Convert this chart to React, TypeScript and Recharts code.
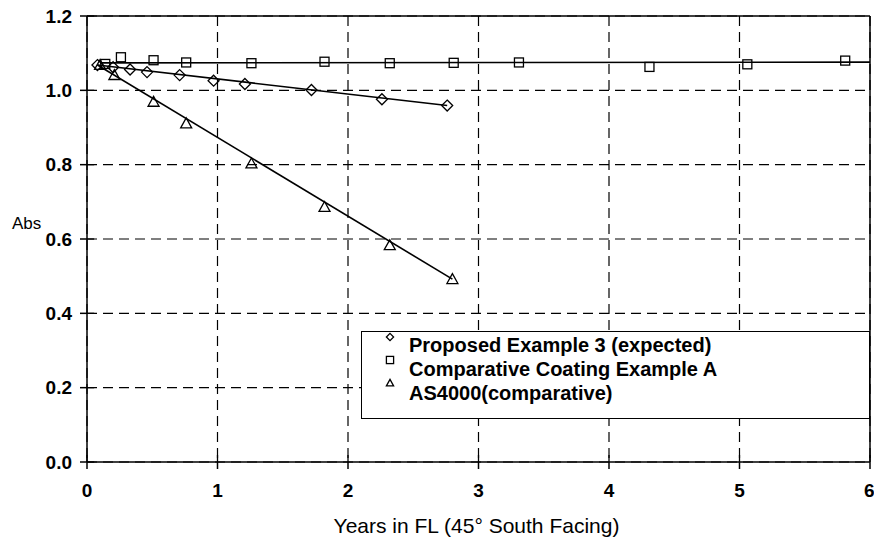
import React from 'react';
import {
  ScatterChart,
  Scatter,
  XAxis,
  YAxis,
  CartesianGrid,
  ReferenceLine,
} from 'recharts';

// ---- data ----
const seriesNames = [
  'Proposed Example 3 (expected)',
  'Comparative Coating Example A',
  'AS4000(comparative)',
];

const proposedX = [0.08, 0.2, 0.33, 0.46, 0.71, 0.97, 1.21, 1.72, 2.26, 2.76];
const proposedY = [1.068, 1.062, 1.056, 1.049, 1.041, 1.026, 1.017, 1.001, 0.976, 0.959];

const compAX = [0.14, 0.26, 0.51, 0.76, 1.26, 1.82, 2.32, 2.81, 3.31, 4.31, 5.06, 5.81];
const compAY = [1.071, 1.089, 1.081, 1.075, 1.073, 1.077, 1.073, 1.074, 1.075, 1.063, 1.07, 1.08];

const as4000X = [0.1, 0.21, 0.51, 0.76, 1.26, 1.82, 2.32, 2.8];
const as4000Y = [1.068, 1.041, 0.969, 0.911, 0.803, 0.686, 0.583, 0.492];

// trend lines (end points)
const proposedFitX = [0.08, 2.76];
const proposedFitY = [1.068, 0.959];
const compAFitX = [0.1, 6];
const compAFitY = [1.074, 1.076];
const as4000FitX = [0.08, 2.8];
const as4000FitY = [1.068, 0.492];

const xTicks = [0, 1, 2, 3, 4, 5, 6];
const yTicks = [0, 0.2, 0.4, 0.6, 0.8, 1.0, 1.2];

const xTitle = 'Years in FL (45° South Facing)';
const yTitle = 'Abs';

const toPts = (xs: number[], ys: number[]) => xs.map((x, i) => ({ x, y: ys[i] }));

const proposed = toPts(proposedX, proposedY);
const compA = toPts(compAX, compAY);
const as4000 = toPts(as4000X, as4000Y);
const proposedFit = toPts(proposedFitX, proposedFitY);
const compAFit = toPts(compAFitX, compAFitY);
const as4000Fit = toPts(as4000FitX, as4000FitY);

const FONT = '"Liberation Sans", Arial, sans-serif';

// inner tick lengths, in axis units (tick marks cross the axes)
const X_INNER = 0.055;
const Y_INNER = 0.019;

const Diamond = ({ cx, cy, r = 5.5 }: any) => (
  <path
    d={`M${cx},${cy - r}L${cx + r},${cy}L${cx},${cy + r}L${cx - r},${cy}Z`}
    fill="none"
    stroke="#000"
    strokeWidth={1.3}
  />
);
const Square = ({ cx, cy, r = 4.5 }: any) => (
  <rect x={cx - r} y={cy - r} width={2 * r} height={2 * r} fill="none" stroke="#000" strokeWidth={1.3} />
);
const Triangle = ({ cx, cy, r = 5.5 }: any) => (
  <path
    d={`M${cx},${cy - r}L${cx + r},${cy + r * 0.8}L${cx - r},${cy + r * 0.8}Z`}
    fill="none"
    stroke="#000"
    strokeWidth={1.3}
  />
);

const markers = [Diamond, Square, Triangle];

const NoShape = () => <g />;

const LegendBox = () => (
  <div
    style={{
      position: 'absolute',
      left: 361,
      top: 331,
      width: 509,
      height: 88,
      boxSizing: 'border-box',
      border: '1.5px solid #000',
      background: '#fff',
      fontFamily: FONT,
    }}
  >
    {seriesNames.map((name, i) => {
      const M = markers[i];
      return (
        <React.Fragment key={name}>
          <svg
            width={14}
            height={14}
            style={{ position: 'absolute', left: 21, top: -2 + i * 23 }}
          >
            <M cx={7} cy={7} r={3.6} />
          </svg>
          <div
            style={{
              position: 'absolute',
              left: 47,
              top: 2 + i * 24,
              fontSize: 20,
              fontWeight: 'bold',
              lineHeight: '22px',
              whiteSpace: 'nowrap',
              color: '#000',
            }}
          >
            {name}
          </div>
        </React.Fragment>
      );
    })}
  </div>
);

const YTitle = (props: any) => {
  const vb = props.viewBox || { x: 0, y: 0, width: 0, height: 0 };
  return (
    <text
      x={vb.x + 12}
      y={vb.y + vb.height * 0.478}
      fontFamily={FONT}
      fontSize={17}
      fill="#000"
    >
      {yTitle}
    </text>
  );
};

export default function App() {
  return (
    <div style={{ position: 'absolute', left: 0, top: 0, width: 874, height: 544, background: '#fff' }}>
      <ScatterChart
        width={874}
        height={544}
        margin={{ top: 16, right: 4, left: 0, bottom: 0 }}
      >
        <CartesianGrid stroke="#000" strokeDasharray="10 6" strokeWidth={1.2} />
        <XAxis
          type="number"
          dataKey="x"
          domain={[0, 6]}
          ticks={xTicks}
          height={82}
          tickSize={7}
          tickMargin={15}
          stroke="#000"
          strokeWidth={1.5}
          tick={{ fill: '#000', fontSize: 19, fontWeight: 'bold', fontFamily: FONT }}
          allowDataOverflow
          label={{
            value: xTitle,
            position: 'insideBottom',
            offset: 11,
            dx: -2,
            style: { fill: '#000', fontSize: 21, fontFamily: FONT },
          }}
        />
        <YAxis
          type="number"
          dataKey="y"
          domain={[0, 1.2]}
          ticks={yTicks}
          width={87}
          tickSize={7}
          tickMargin={8}
          stroke="#000"
          strokeWidth={1.5}
          tickFormatter={(v: number) => v.toFixed(1)}
          tick={{ fill: '#000', fontSize: 19, fontWeight: 'bold', fontFamily: FONT }}
          allowDataOverflow
          label={<YTitle />}
        />
        <ReferenceLine x={6} stroke="#000" strokeWidth={1.5} />
        <ReferenceLine y={1.2} stroke="#000" strokeWidth={1.5} />
        {yTicks.map((v) => (
          <ReferenceLine
            key={'yt' + v}
            segment={[{ x: 0, y: v }, { x: X_INNER, y: v }]}
            stroke="#000"
            strokeWidth={1.3}
          />
        ))}
        {xTicks.map((v) => (
          <ReferenceLine
            key={'xt' + v}
            segment={[{ x: v, y: 0 }, { x: v, y: Y_INNER }]}
            stroke="#000"
            strokeWidth={1.3}
          />
        ))}

        <Scatter
          data={proposedFit}
          line={{ stroke: '#000', strokeWidth: 1.6 }}
          shape={NoShape}
          isAnimationActive={false}
          legendType="none"
        />
        <Scatter
          data={compAFit}
          line={{ stroke: '#000', strokeWidth: 1.6 }}
          shape={NoShape}
          isAnimationActive={false}
          legendType="none"
        />
        <Scatter
          data={as4000Fit}
          line={{ stroke: '#000', strokeWidth: 1.6 }}
          shape={NoShape}
          isAnimationActive={false}
          legendType="none"
        />

        <Scatter
          name={seriesNames[0]}
          data={proposed}
          shape={(p: any) => <Diamond cx={p.cx} cy={p.cy} />}
          isAnimationActive={false}
        />
        <Scatter
          name={seriesNames[1]}
          data={compA}
          shape={(p: any) => <Square cx={p.cx} cy={p.cy} />}
          isAnimationActive={false}
        />
        <Scatter
          name={seriesNames[2]}
          data={as4000}
          shape={(p: any) => <Triangle cx={p.cx} cy={p.cy} />}
          isAnimationActive={false}
        />
      </ScatterChart>
      <LegendBox />
    </div>
  );
}
